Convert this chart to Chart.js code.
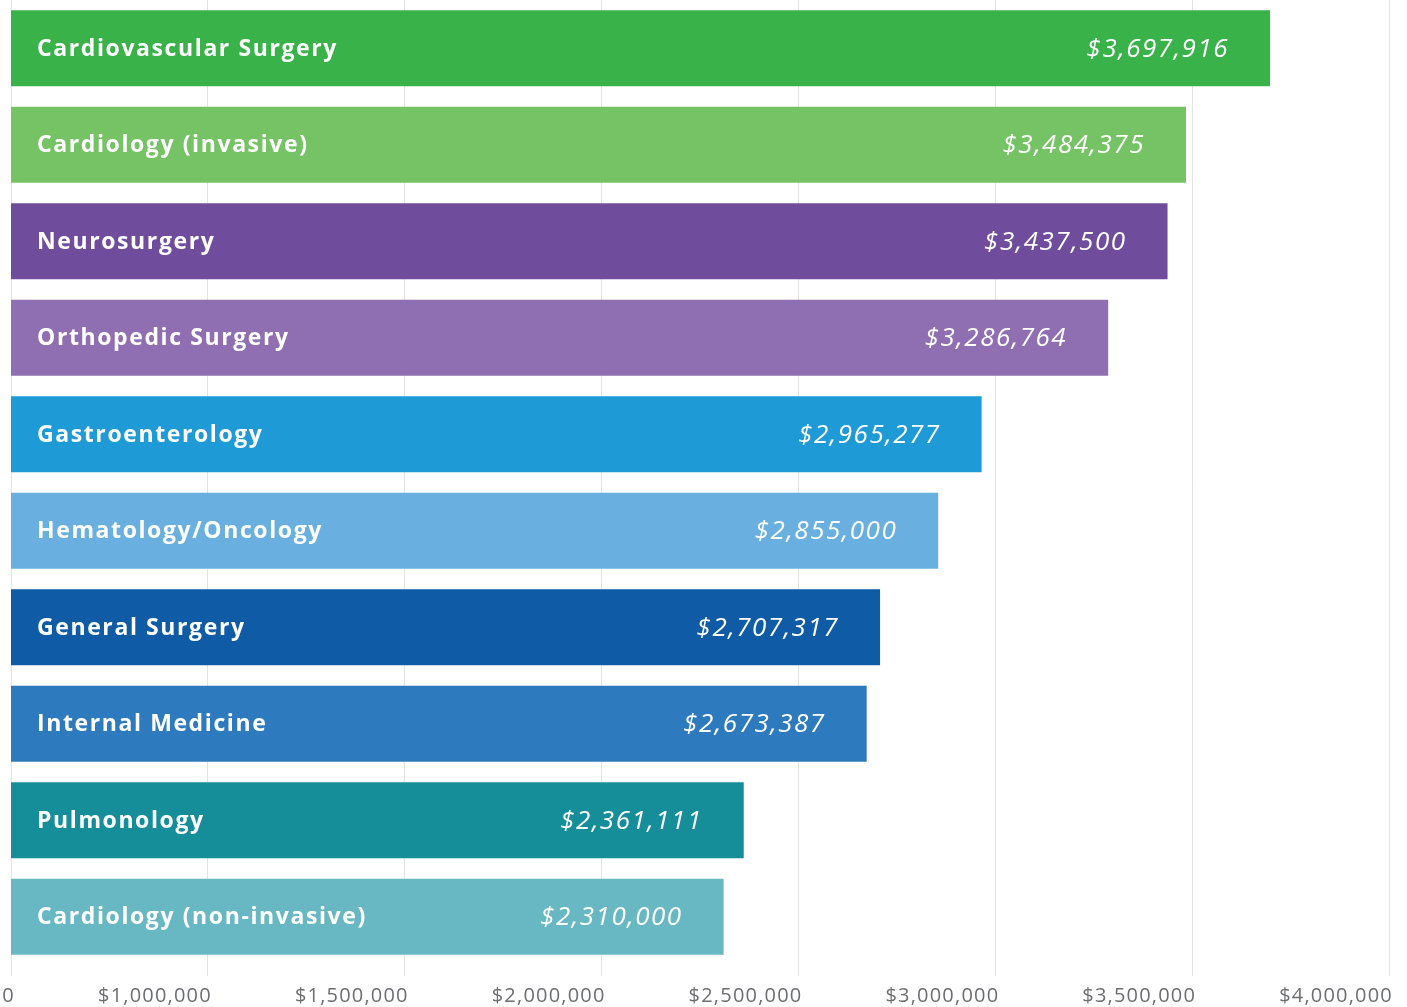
<!DOCTYPE html>
<html>
<head>
<meta charset="utf-8">
<script src="https://cdn.jsdelivr.net/npm/chart.js@4.4.1/dist/chart.umd.min.js"></script>
<style>
  html, body { margin: 0; padding: 0; background: #fff; }
  #wrap { width: 1407px; height: 1007px; }
</style>
</head>
<body>
<div id="wrap"><canvas id="salaryChart"></canvas></div>
<script>
// specialties, top to bottom
const specialties = [
  'Cardiovascular Surgery',
  'Cardiology (invasive)',
  'Neurosurgery',
  'Orthopedic Surgery',
  'Gastroenterology',
  'Hematology/Oncology',
  'General Surgery',
  'Internal Medicine',
  'Pulmonology',
  'Cardiology (non-invasive)',
];
const revenue = [3697916, 3484375, 3437500, 3286764, 2965277, 2855000, 2707317, 2673387, 2361111, 2310000];
const barColors = ['#39b24a', '#75c365', '#6f4d9c', '#8f6eb2', '#1e9ad6', '#69b0e0', '#0f5ba6', '#2e7abe', '#168e9a', '#68b8c3'];
// axis starts at 500k but is labelled 0 in the original
const axisMin = 500000;
const axisMax = 4000000;
const axisStep = 500000;

function money(v) {
  return '$' + Math.round(v).toLocaleString('en-US');
}

const spacingPlugin = {
  id: 'spacing',
  beforeDraw(chart) {
    chart.ctx.letterSpacing = '1.2px';
  },
};

const barLabels = {
  id: 'barLabels',
  afterDatasetsDraw(chart) {
    const ctx = chart.ctx;
    const meta = chart.getDatasetMeta(0);
    const left = chart.chartArea.left;
    ctx.save();
    ctx.fillStyle = '#ffffff';
    ctx.textBaseline = 'middle';
    meta.data.forEach((bar, i) => {
      ctx.letterSpacing = '1.6px';
      ctx.font = 'bold 23px "Open Sans"';
      ctx.textAlign = 'left';
      ctx.fillText(specialties[i], left + 26, bar.y + 1);

      ctx.letterSpacing = '1.5px';
      ctx.font = 'italic 26px "Open Sans"';
      ctx.textAlign = 'right';
      ctx.fillText(money(revenue[i]), bar.x - 41, bar.y + 1);
    });
    ctx.restore();
  },
};

new Chart(document.getElementById('salaryChart'), {
  type: 'bar',
  data: {
    labels: specialties,
    datasets: [{
      data: revenue,
      backgroundColor: barColors,
      borderWidth: 0,
      categoryPercentage: 1,
      barPercentage: 0.786,
    }],
  },
  options: {
    indexAxis: 'y',
    responsive: true,
    maintainAspectRatio: false,
    animation: false,
    layout: { padding: { left: 11, right: 18, top: -2, bottom: 0 } },
    plugins: {
      legend: { display: false },
      tooltip: { enabled: false },
    },
    scales: {
      x: {
        min: axisMin,
        max: axisMax,
        border: { display: false },
        grid: { color: '#e3e3e3', lineWidth: 1, tickLength: 11 },
        ticks: {
          stepSize: axisStep,
          align: 'end',
          labelOffset: 4,
          maxRotation: 0,
          padding: 9,
          color: '#6d6e71',
          font: { family: '"Open Sans"', size: 20, lineHeight: 1.1 },
          callback: (v) => (v === axisMin ? '0' : money(v)),
        },
        afterFit(scale) {
          scale.paddingLeft = 0;
          scale.paddingRight = 0;
          scale.height = 42;
        },
      },
      y: {
        display: false,
        grid: { display: false },
      },
    },
  },
  plugins: [spacingPlugin, barLabels],
});
</script>
</body>
</html>
